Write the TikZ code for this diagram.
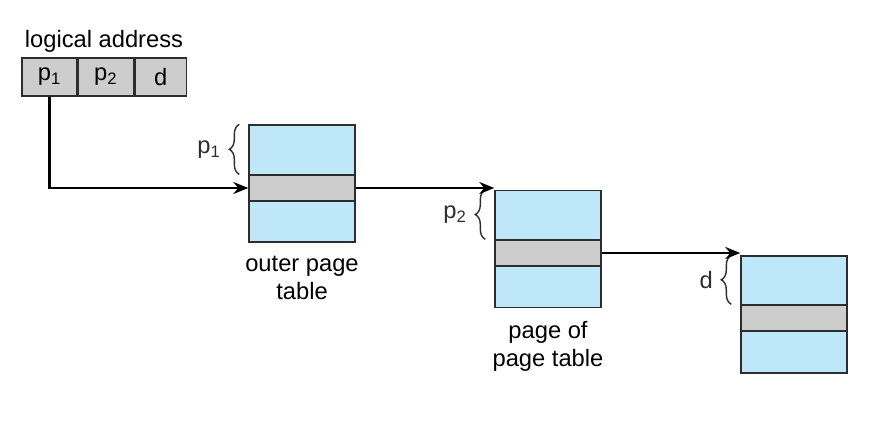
\documentclass[tikz,border=0pt]{standalone}
\usepackage{fontspec}
\setmainfont{Liberation Sans}
\usetikzlibrary{calc, positioning}
\usetikzlibrary{arrows.meta}
\usetikzlibrary{decorations.pathreplacing}
\definecolor{tblue}{RGB}{190,232,250}
\definecolor{tgray}{RGB}{205,205,205}
\definecolor{tline}{RGB}{45,45,45}

\begin{document}
\begin{tikzpicture}[x=0.02cm,y=-0.02cm,font=\fontsize{13.5}{16}\selectfont,
  field/.style={draw=tline,fill=tgray,line width=0.8pt,minimum height=0.76cm,inner sep=0pt},
  ptable/.style={draw=tline,fill=tblue,line width=0.8pt,minimum width=2.12cm,minimum height=2.34cm,inner sep=0pt},
  pentry/.style={draw=tline,fill=tgray,line width=0.8pt,minimum width=2.12cm,minimum height=0.52cm,inner sep=0pt},
  pbrace/.style={decorate,decoration={brace,amplitude=2mm},line width=0.8pt,tline},
  link/.style={line width=1.2pt,-{Stealth[length=3mm,width=2.4mm]}}]
\useasboundingbox (0,0) rectangle (875,444);

% logical address
\node[field,minimum width=1.1cm] (fp1) at (49.5,77) {p\textsubscript{1}};
\node[field,minimum width=1.1cm,right=0pt of fp1] (fp2) {p\textsubscript{2}};
\node[field,minimum width=1.04cm,right=0pt of fp2] (fd) {d};
\node (la) at (104,41) {logical address};

% tables
\node[ptable] (outer) at (302,183.5) {};
\node[pentry] (outerE) at (302,188) {};
\node[ptable] (inner) at (548,249) {};
\node[pentry] (innerE) at (548,253) {};
\node[ptable] (frame) at (794,314.5) {};
\node[pentry] (frameE) at (794,318) {};

\node[below=1.4mm of outer,align=center] (outerL) {outer page\\table};
\node[below=1.4mm of inner,align=center] (innerL) {page of\\page table};

% braces
\draw[pbrace] ([xshift=-1.8mm]outerE.north west) -- ([xshift=-1.8mm]outer.north west)
  node[midway,left=2.4mm] (bp1) {p\textsubscript{1}};
\draw[pbrace] ([xshift=-1.8mm]innerE.north west) -- ([xshift=-1.8mm]inner.north west)
  node[midway,left=2.4mm] (bp2) {p\textsubscript{2}};
\draw[pbrace] ([xshift=-1.8mm]frameE.north west) -- ([xshift=-1.8mm]frame.north west)
  node[midway,left=2.4mm] (bd) {d};

% links
\draw[link] (fp1.south) |- (outerE.west);
\draw[link] (outerE.east) -- (outerE.east -| inner.west);
\draw[link] (innerE.east) -- (innerE.east -| frame.west);
\end{tikzpicture}
\end{document}
